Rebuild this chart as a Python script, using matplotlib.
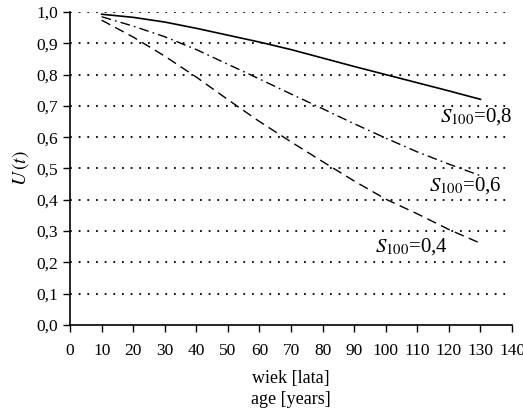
import matplotlib
matplotlib.use("Agg")
import matplotlib.pyplot as plt
from matplotlib.ticker import FuncFormatter

plt.rcParams['font.family'] = ['Liberation Serif', 'DejaVu Serif']
plt.rcParams['mathtext.fontset'] = 'stix'

# wiek (lata)
age = [10, 20, 30, 40, 50, 60, 70, 80, 90, 100, 110, 120, 130]
u_08 = [0.993, 0.983, 0.968, 0.948, 0.926, 0.904, 0.880, 0.853, 0.826, 0.800, 0.774, 0.748, 0.721]
u_06 = [0.985, 0.955, 0.921, 0.880, 0.833, 0.786, 0.738, 0.691, 0.643, 0.597, 0.553, 0.514, 0.477]
u_04 = [0.974, 0.920, 0.859, 0.792, 0.720, 0.650, 0.585, 0.522, 0.460, 0.402, 0.355, 0.305, 0.261]

fig = plt.figure(figsize=(5.23, 4.15), dpi=100)
ax = fig.add_axes([0.134, 0.217, 0.845, 0.754])

for yv in [0.1, 0.2, 0.3, 0.4, 0.5, 0.6, 0.7, 0.8, 0.9, 1.0]:
    ax.axhline(yv, color='black', lw=1.3, ls=(0, (1.0, 3.8)), zorder=1)

ax.plot(age, u_08, color='black', lw=1.2, ls='-', zorder=3)
ax.plot(age, u_06, color='black', lw=1.0, ls=(0, (7, 3, 1.2, 3)), zorder=3)
ax.plot(age, u_04, color='black', lw=1.0, ls=(0, (7, 4)), zorder=3)

fs = 15
ax.text(140, 0.665, r'$\mathit{S}_{\mathrm{100}}$=0,8', ha='right', va='center', fontsize=fs)
ax.text(136.7, 0.447, r'$\mathit{S}_{\mathrm{100}}$=0,6', ha='right', va='center', fontsize=fs)
ax.text(119.7, 0.25, r'$\mathit{S}_{\mathrm{100}}$=0,4', ha='right', va='center', fontsize=fs)

ax.set_xlim(0, 140)
ax.set_ylim(0, 1.0)
ax.set_xticks(range(0, 141, 10))
ax.set_yticks([i / 10 for i in range(11)])
ax.yaxis.set_major_formatter(FuncFormatter(lambda v, p: ('%.1f' % v).replace('.', ',')))
ax.tick_params(labelsize=12.5, direction='out', length=5, width=1.0, colors='black')
ax.tick_params(axis='x', pad=8)

for s in ['top', 'right']:
    ax.spines[s].set_visible(False)
for s in ['left', 'bottom']:
    ax.spines[s].set_linewidth(1.2)

ax.set_ylabel(r'$U\,(t)$', fontsize=14, labelpad=4)
ax.set_xlabel('wiek [lata]\nage [years]', fontsize=13, linespacing=1.3, labelpad=8)

fig.savefig('out.png', dpi=100)
